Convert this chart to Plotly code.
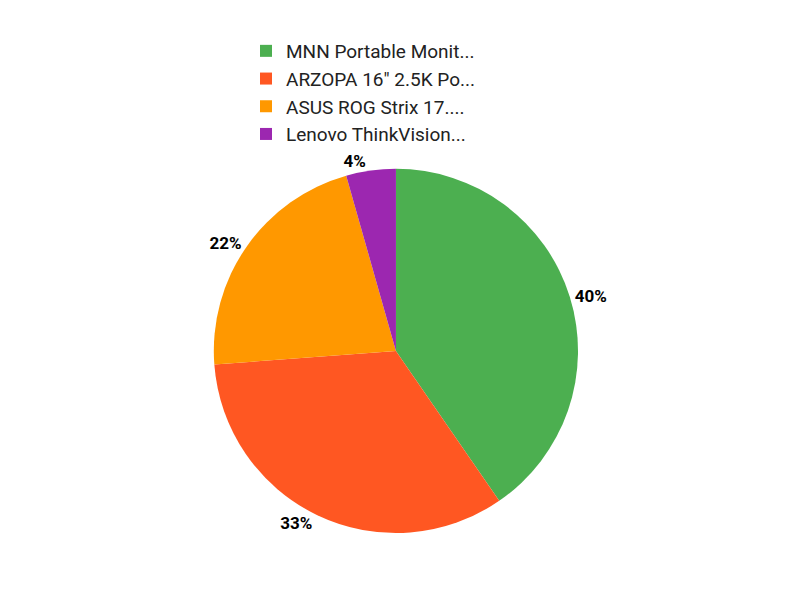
import plotly.graph_objects as go

labels = ["MNN Portable Monit...", "ARZOPA 16\" 2.5K Po...", "ASUS ROG Strix 17....", "Lenovo ThinkVision..."]
values = [40.4, 33.4, 21.8, 4.4]
colors = ["#4CAF50", "#FF5722", "#FF9800", "#9C27B0"]

fig = go.Figure(go.Pie(
    labels=labels, values=values, sort=False, direction="clockwise", rotation=0,
    marker=dict(colors=colors), textposition="outside", texttemplate="%{percent:.0%}",
    textfont=dict(family="Roboto", size=17, color="black", weight="bold"),
    domain=dict(x=[0.005, 1], y=[0.125, 0.732]), hoverinfo="label+percent",
))
fig.update_layout(
    width=800, height=600, paper_bgcolor="white", font=dict(family="Roboto"),
    margin=dict(l=0, r=0, t=0, b=0),
    legend=dict(orientation="h", x=0.5, xanchor="center", y=0.96, yanchor="top",
                entrywidth=252, font=dict(size=19, color="#222")),
)
fig.write_html("out.html")
